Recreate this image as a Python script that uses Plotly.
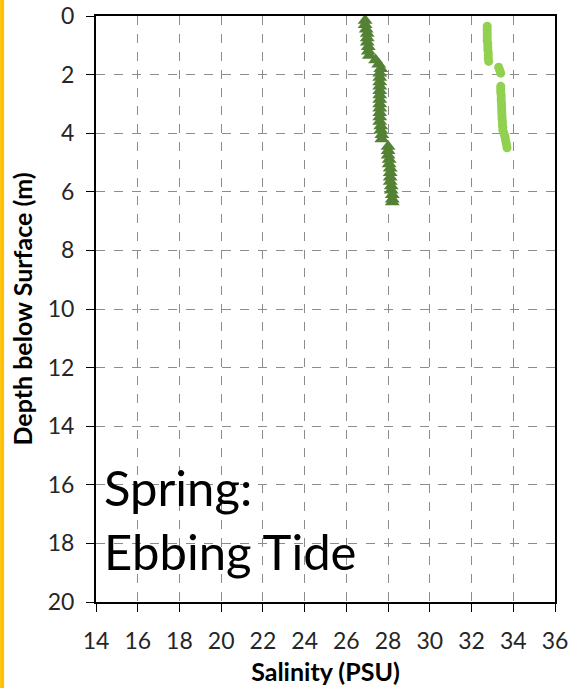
import plotly.graph_objects as go

# Spring ebbing tide: salinity profiles (PSU) vs depth (m)
tri_depth = [0.15, 0.30, 0.45, 0.60, 0.75, 0.90, 1.05, 1.20, 1.35, 1.50,
             1.65, 1.80, 1.95, 2.10, 2.25, 2.40, 2.55, 2.70, 2.85, 3.00,
             3.15, 3.30, 3.45, 3.60, 3.75, 3.90, 4.05, 4.20, 4.45, 4.60,
             4.75, 4.90, 5.05, 5.20, 5.35, 5.50, 5.65, 5.80, 5.95, 6.10,
             6.25, 6.35]
tri_sal = [26.9, 26.9, 26.95, 27.0, 27.0, 27.0, 27.05, 27.05, 27.1, 27.4,
           27.55, 27.65, 27.6, 27.6, 27.6, 27.6, 27.6, 27.6, 27.6, 27.6,
           27.6, 27.6, 27.6, 27.6, 27.65, 27.65, 27.7, 27.7, 28.0, 28.0,
           28.0, 28.05, 28.05, 28.1, 28.1, 28.1, 28.1, 28.15, 28.15, 28.2,
           28.2, 28.2]

circ_depth = [0.35, 0.45, 0.55, 0.65, 0.75, 0.85, 0.95, 1.05, 1.15, 1.25,
              1.35, 1.45, 1.55, 1.75, 1.85, 1.95, 2.40, 2.50, 2.60, 2.70,
              2.80, 2.90, 3.00, 3.10, 3.20, 3.30, 3.40, 3.50, 3.60, 3.70,
              3.80, 3.90, 4.00, 4.10, 4.20, 4.30, 4.40, 4.50]
circ_sal = [32.75, 32.75, 32.75, 32.75, 32.75, 32.75, 32.78, 32.78, 32.78, 32.8,
            32.8, 32.8, 32.82, 33.3, 33.35, 33.4, 33.4, 33.4, 33.4, 33.42,
            33.42, 33.42, 33.44, 33.44, 33.45, 33.45, 33.46, 33.46, 33.48, 33.48,
            33.5, 33.5, 33.55, 33.6, 33.62, 33.65, 33.68, 33.7]

x_ticks = list(range(14, 37, 2))
y_ticks = list(range(0, 21, 2))

font = "Lato, 'Open Sans', sans-serif"

fig = go.Figure()
fig.add_trace(go.Scatter(
    x=tri_sal, y=tri_depth, mode="markers",
    marker=dict(symbol="triangle-up", size=13, color="#548235"),
))
fig.add_trace(go.Scatter(
    x=circ_sal, y=circ_depth, mode="markers",
    marker=dict(symbol="circle", size=9, color="#92D050"),
))

axis_common = dict(
    showline=True, linecolor="black", linewidth=2, mirror=True,
    ticks="outside", ticklen=8, tickcolor="black", tickwidth=1,
    showgrid=True, gridcolor="#8c8c8c", gridwidth=1, griddash="dash",
    zeroline=False, automargin=False,
    tickfont=dict(family=font, size=23, color="#262626"),
)

fig.update_xaxes(
    range=[14, 36], tickvals=x_ticks, ticklabelstandoff=9,
    title=dict(text="<b>Salinity (PSU)</b>", font=dict(family=font, size=25, color="black"),
               standoff=11),
    **axis_common,
)
fig.update_yaxes(
    range=[20, 0], tickvals=y_ticks, ticklabelstandoff=7,
    title=dict(text="<b>Depth below Surface (m)</b>", font=dict(family=font, size=25, color="black"),
               standoff=8),
    **axis_common,
)

fig.add_annotation(
    text="Spring:<br>Ebbing Tide", xref="x", yref="y", x=14.3, y=15.0,
    xanchor="left", yanchor="top", align="left", showarrow=False,
    font=dict(family=font, size=49, color="black"),
)

# yellow strip on the left edge
fig.add_shape(
    type="rect", xref="paper", yref="paper",
    x0=-96 / 459.4, x1=-92 / 459.4, y0=-86 / 586, y1=1.03,
    fillcolor="#FFC000", line_width=0, layer="above",
)

fig.update_layout(
    width=571, height=688,
    margin=dict(l=96, r=16, t=16, b=86),
    paper_bgcolor="white", plot_bgcolor="white",
    showlegend=False,
)

fig.write_html("out.html", config={"displayModeBar": False},
               post_script="document.body.style.margin='0';")
